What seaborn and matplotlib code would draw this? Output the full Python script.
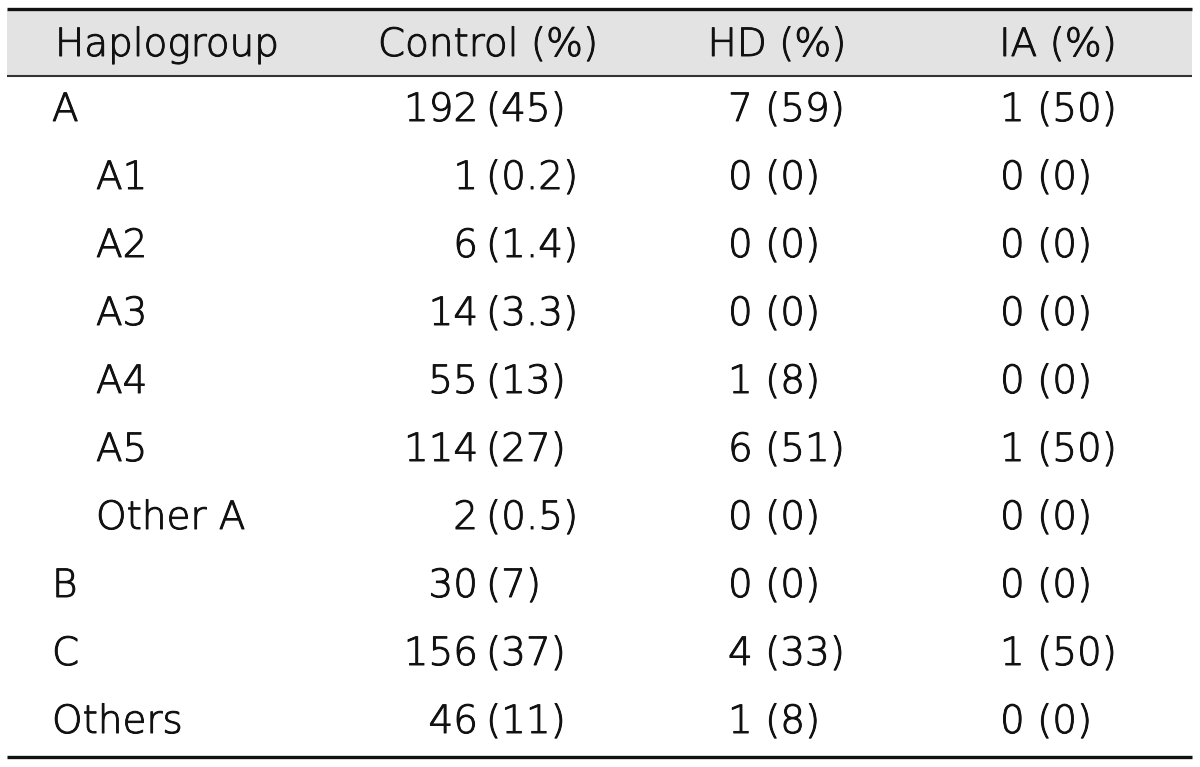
import matplotlib
matplotlib.use("Agg")
import matplotlib.pyplot as plt
import matplotlib.patheffects as pe
import seaborn as sns

# ---- data ----
headers = ["Haplogroup", "Control (%)", "HD (%)", "IA (%)"]
groups = ["A", "A1", "A2", "A3", "A4", "A5", "Other A", "B", "C", "Others"]
indent = [0, 1, 1, 1, 1, 1, 1, 0, 0, 0]
control_n = ["192", "1", "6", "14", "55", "114", "2", "30", "156", "46"]
control_pct = ["45", "0.2", "1.4", "3.3", "13", "27", "0.5", "7", "37", "11"]
hd_n = ["7", "0", "0", "0", "1", "6", "0", "0", "4", "1"]
hd_pct = ["59", "0", "0", "0", "8", "51", "0", "0", "33", "8"]
ia_n = ["1", "0", "0", "0", "0", "1", "0", "0", "1", "0"]
ia_pct = ["50", "0", "0", "0", "0", "50", "0", "0", "50", "0"]

sns.set_theme(style="white")
plt.rcParams["font.family"] = ["DejaVu Sans"]

W, H = 1200, 767
fig = plt.figure(figsize=(W / 100, H / 100), dpi=100)
ax = fig.add_axes([0, 0, 1, 1])
ax.set_xlim(0, W)
ax.set_ylim(H, 0)
ax.axis("off")

fs = 28
fw = "light"
col = "#111111"
effects = [pe.withStroke(linewidth=0.7, foreground=col)]

# header band and rules
ax.axhspan(10, 75, xmin=7 / W, xmax=1192 / W, color="#e3e3e3", lw=0, zorder=0)
ax.plot([7, 1192], [8.5, 8.5], color="#111111", lw=2.4, solid_capstyle="butt")
ax.plot([7, 1192], [75.5, 75.5], color="#333333", lw=1.5, solid_capstyle="butt")
ax.plot([7, 1192], [757, 757], color="#111111", lw=2.4, solid_capstyle="butt")

kw = dict(fontsize=fs, color=col, va="center", fontweight=fw, path_effects=effects)

# header text
hy = 45
ax.text(55, hy, headers[0], ha="left", **kw)
ax.text(488, hy, headers[1], ha="center", **kw)
ax.text(777, hy, headers[2], ha="center", **kw)
ax.text(1058, hy, headers[3], ha="center", **kw)

y0, dy = 110, 68
for i, g in enumerate(groups):
    y = y0 + i * dy
    ax.text(52 + 44 * indent[i], y, g, ha="left", **kw)
    ax.text(478, y, control_n[i], ha="right", **kw)
    ax.text(486, y, f"({control_pct[i]})", ha="left", **kw)
    ax.text(728, y, f"{hd_n[i]} ({hd_pct[i]})", ha="left", **kw)
    ax.text(1000, y, f"{ia_n[i]} ({ia_pct[i]})", ha="left", **kw)

fig.savefig("out.png", dpi=100, facecolor="white")
